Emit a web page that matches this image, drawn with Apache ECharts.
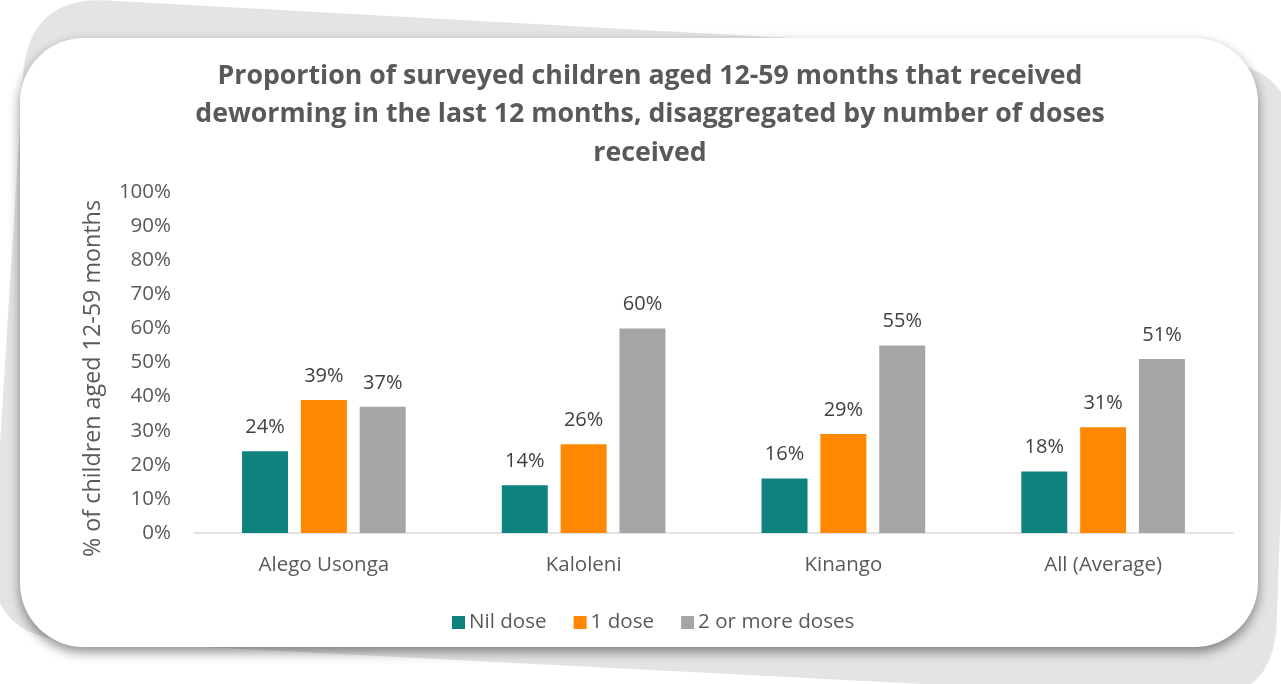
<!DOCTYPE html>
<html>
<head>
<meta charset="utf-8">
<style>
  html, body { margin: 0; padding: 0; background: #ffffff; }
  #chart { width: 1281px; height: 684px; }
</style>
<script src="https://cdn.jsdelivr.net/npm/echarts@6/dist/echarts.min.js"></script>
</head>
<body>
<div id="chart"></div>
<script>
// Sites surveyed and the share of children (12-59 months) by deworming doses received
const categories = ['Alego Usonga', 'Kaloleni', 'Kinango', 'All (Average)'];
const nilDose = [24, 14, 16, 18];
const oneDose = [39, 26, 29, 31];
const twoPlusDoses = [37, 60, 55, 51];
const seriesNames = ['Nil dose', '1 dose', '2 or more doses'];
const yTicks = [0, 10, 20, 30, 40, 50, 60, 70, 80, 90, 100];

const colors = ['#0E827D', '#FF8800', '#A5A5A5'];
const textColor = '#595959';
const labelFont = 'Open Sans';

// Outline of a quadrilateral with rounded corners, sampled as polygon points
function roundedPoly(pts, r, steps) {
  const out = [];
  const n = pts.length;
  for (let i = 0; i < n; i++) {
    const p0 = pts[(i - 1 + n) % n], p1 = pts[i], p2 = pts[(i + 1) % n];
    const u0 = [p0[0] - p1[0], p0[1] - p1[1]];
    const u2 = [p2[0] - p1[0], p2[1] - p1[1]];
    const l0 = Math.hypot(u0[0], u0[1]), l2 = Math.hypot(u2[0], u2[1]);
    const a = [p1[0] + u0[0] / l0 * r, p1[1] + u0[1] / l0 * r];
    const b = [p1[0] + u2[0] / l2 * r, p1[1] + u2[1] / l2 * r];
    for (let k = 0; k <= steps; k++) {
      const t = k / steps, s = 1 - t;
      out.push([
        s * s * a[0] + 2 * s * t * p1[0] + t * t * b[0],
        s * s * a[1] + 2 * s * t * p1[1] + t * t * b[1]
      ]);
    }
  }
  return out;
}

const chart = echarts.init(document.getElementById('chart'), null, { renderer: 'canvas' });

function makeSeries(name, data, color) {
  return {
    name: name,
    type: 'bar',
    data: data,
    barGap: '28%',
    barCategoryGap: '37%',
    itemStyle: { color: color },
    label: {
      show: true,
      position: 'top',
      distance: 14,
      formatter: p => p.value + '%',
      color: '#404040',
      fontFamily: labelFont,
      fontSize: 20
    },
    z: 5
  };
}

const option = {
  backgroundColor: '#ffffff',
  animation: false,
  graphic: [
    {
      type: 'polygon',
      z: -20,
      silent: true,
      shape: { points: roundedPoly([[28, -4], [1296, 66], [1274, 702], [-12, 636]], 80, 16) },
      style: { fill: '#E4E4E4' }
    },
    {
      type: 'rect',
      z: -10,
      silent: true,
      shape: { x: 20, y: 38, width: 1238, height: 609, r: 64 },
      style: {
        fill: '#ffffff',
        shadowBlur: 12,
        shadowOffsetX: 0,
        shadowOffsetY: 5,
        shadowColor: 'rgba(0,0,0,0.45)'
      }
    }
  ],
  title: {
    text: 'Proportion of surveyed children aged 12-59 months that received\ndeworming in the last 12 months, disaggregated by number of doses\nreceived',
    left: 645,
    top: 52,
    textAlign: 'center',
    textStyle: {
      color: textColor,
      fontFamily: 'Open Sans',
      fontWeight: 'bold',
      fontSize: 26.7,
      lineHeight: 38.5
    }
  },
  legend: {
    data: seriesNames,
    left: 447,
    top: 607,
    itemWidth: 13,
    itemHeight: 13,
    itemGap: 27,
    icon: 'rect',
    textStyle: {
      color: textColor,
      fontFamily: labelFont,
      fontSize: 20.6,
      padding: [0, 0, 0, -1]
    }
  },
  grid: {
    left: 194,
    right: 48,
    top: 192,
    bottom: 151,
    containLabel: false
  },
  xAxis: {
    type: 'category',
    data: categories,
    axisLine: { lineStyle: { color: '#D9D9D9', width: 1.5 } },
    axisTick: { show: false },
    axisLabel: {
      color: textColor,
      fontFamily: labelFont,
      fontSize: 20.5,
      margin: 22
    }
  },
  yAxis: {
    type: 'value',
    min: yTicks[0],
    max: yTicks[yTicks.length - 1],
    interval: yTicks[1] - yTicks[0],
    name: '% of children aged 12-59 months',
    nameLocation: 'middle',
    nameGap: 89,
    nameTextStyle: {
      color: textColor,
      fontFamily: labelFont,
      fontSize: 23.3,
      padding: [0, 32, 0, 0]
    },
    axisLine: { show: false },
    axisTick: { show: false },
    splitLine: { show: false },
    axisLabel: {
      color: textColor,
      fontFamily: labelFont,
      fontSize: 20.5,
      margin: 23,
      formatter: v => v + '%'
    }
  },
  series: [
    makeSeries(seriesNames[0], nilDose, colors[0]),
    makeSeries(seriesNames[1], oneDose, colors[1]),
    makeSeries(seriesNames[2], twoPlusDoses, colors[2])
  ]
};

chart.setOption(option);
</script>
</body>
</html>
